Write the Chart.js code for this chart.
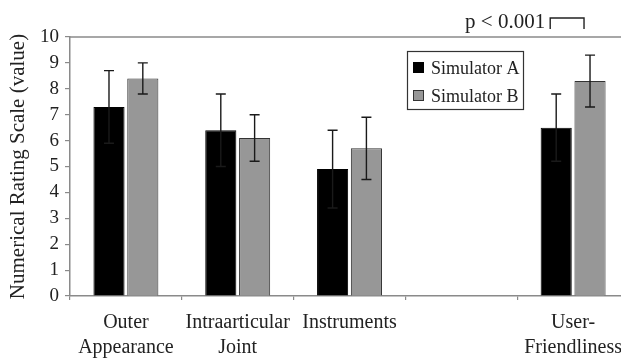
<!DOCTYPE html>
<html>
<head>
<meta charset="utf-8">
<script src="https://cdn.jsdelivr.net/npm/chart.js@4/dist/chart.umd.min.js"></script>
<style>
html,body{margin:0;padding:0;overflow:hidden;background:#fff;width:621px;height:358px;font-family:"Liberation Serif";}
#wrap{width:632px;height:358px;}
</style>
</head>
<body>
<div id="wrap"><canvas id="c" width="632" height="358"></canvas></div>
<script>
const categories = [["Outer", "Appearance"], ["Intraarticular", "Joint"], "Instruments", "", ["User-", "Friendliness"]];
const simulatorA = [7.3, 6.4, 4.9, null, 6.5];
const simulatorB = [8.4, 6.1, 5.7, null, 8.3];
const errorA = [1.4, 1.4, 1.5, null, 1.3];
const errorB = [0.6, 0.9, 1.2, null, 1.0];
const yTicks = [0, 1, 2, 3, 4, 5, 6, 7, 8, 9, 10];
const seriesNames = ["Simulator A", "Simulator B"];
const significance = "p < 0.001";
const significanceIndex = 4;

const FONT = "'Liberation Serif'";
const AXIS = '#8a8a8a';
const TEXT = '#222';
Chart.defaults.font.family = FONT;

const errorBars = {
  id: 'errorBars',
  afterDatasetsDraw(chart) {
    const ctx = chart.ctx, y = chart.scales.y;
    const errs = [errorA, errorB];
    ctx.save();
    ctx.strokeStyle = '#1a1a1a';
    ctx.lineWidth = 1.4;
    chart.data.datasets.forEach((ds, di) => {
      const meta = chart.getDatasetMeta(di);
      meta.data.forEach((bar, i) => {
        const v = ds.data[i], e = errs[di][i];
        if (v == null || e == null) return;
        const x = bar.x;
        const yt = y.getPixelForValue(v + e), yb = y.getPixelForValue(v - e);
        ctx.beginPath();
        ctx.moveTo(x, yt); ctx.lineTo(x, yb);
        ctx.moveTo(x - 5, yt); ctx.lineTo(x + 5, yt);
        ctx.moveTo(x - 5, yb); ctx.lineTo(x + 5, yb);
        ctx.stroke();
      });
    });
    ctx.restore();
  }
};

const frameAndNotes = {
  id: 'frameAndNotes',
  afterDraw(chart) {
    const ctx = chart.ctx, a = chart.chartArea;
    ctx.save();
    ctx.strokeStyle = AXIS;
    ctx.lineWidth = 1.5;
    ctx.beginPath();
    ctx.moveTo(a.left, a.top); ctx.lineTo(a.right, a.top);
    ctx.stroke();

    const lx = a.left + 337, ly = a.top + 14, lw = 116, lh = 58;
    ctx.strokeStyle = '#333';
    ctx.lineWidth = 1.2;
    ctx.strokeRect(lx + 0.5, ly + 0.5, lw, lh);
    ctx.font = '18px ' + FONT;
    ctx.textBaseline = 'middle';
    ctx.textAlign = 'left';
    chart.data.datasets.forEach((ds, i) => {
      const cy = ly + 17 + i * 28;
      ctx.fillStyle = ds.backgroundColor;
      ctx.fillRect(lx + 6, cy - 6, 11, 11);
      ctx.strokeStyle = ds.borderColor;
      ctx.lineWidth = 1;
      ctx.strokeRect(lx + 6.5, cy - 5.5, 10, 10);
      ctx.fillStyle = TEXT;
      ctx.fillText(ds.label, lx + 24, cy + 1);
    });

    const mA = chart.getDatasetMeta(0).data[significanceIndex];
    const mB = chart.getDatasetMeta(1).data[significanceIndex];
    const x1 = mA.x - 6, x2 = mB.x - 6;
    const by = a.top - 19;
    ctx.strokeStyle = '#222';
    ctx.lineWidth = 1.4;
    ctx.beginPath();
    ctx.moveTo(x1, by + 11); ctx.lineTo(x1, by); ctx.lineTo(x2, by); ctx.lineTo(x2, by + 11);
    ctx.stroke();
    ctx.font = '21px ' + FONT;
    ctx.textAlign = 'right';
    ctx.textBaseline = 'alphabetic';
    ctx.fillStyle = TEXT;
    ctx.fillText(significance, x1 - 5, a.top - 9);
    ctx.restore();
  }
};

function build() {
  const chart = new Chart(document.getElementById('c'), {
    type: 'bar',
    data: {
      labels: categories,
      datasets: [
        { label: seriesNames[0], data: simulatorA, backgroundColor: '#000000', borderColor: '#000000', borderWidth: 1 },
        { label: seriesNames[1], data: simulatorB, backgroundColor: '#979797', borderColor: '#333333', borderWidth: 1 }
      ]
    },
    options: {
      responsive: false,
      animation: false,
      layout: { padding: { top: 37, right: 0, bottom: 0, left: 0 } },
      datasets: { bar: { categoryPercentage: 0.605, barPercentage: 0.92 } },
      plugins: { legend: { display: false }, tooltip: { enabled: false } },
      scales: {
        x: {
          afterFit(s) { s.height = 62; },
          grid: { display: true, drawOnChartArea: false, offset: true, tickLength: 4, color: AXIS, lineWidth: 1.2 },
          border: { display: true, color: AXIS, width: 1.5 },
          ticks: { color: TEXT, padding: 10, maxRotation: 0, autoSkip: false, font: { family: FONT, size: 20, lineHeight: 1.25 } }
        },
        y: {
          min: 0, max: 10,
          afterFit(s) { s.width = 70; },
          afterBuildTicks(s) { s.ticks = yTicks.map(v => ({ value: v })); },
          grid: { display: true, drawOnChartArea: false, tickLength: 5, color: AXIS, lineWidth: 1.2 },
          border: { display: true, color: AXIS, width: 1.5 },
          ticks: { color: TEXT, padding: 6, font: { family: FONT, size: 19 } },
          title: { display: true, text: 'Numerical Rating Scale (value)', color: TEXT, padding: { top: 6, bottom: 0 }, font: { family: FONT, size: 21 } }
        }
      }
    },
    plugins: [errorBars, frameAndNotes]
  });
  setTimeout(() => chart.update('none'), 50);
}

if (document.fonts && document.fonts.load) {
  Promise.all([document.fonts.load("20px 'Liberation Serif'"), document.fonts.load("18px 'Liberation Serif'")]).then(build, build);
} else {
  build();
}
</script>
</body>
</html>
